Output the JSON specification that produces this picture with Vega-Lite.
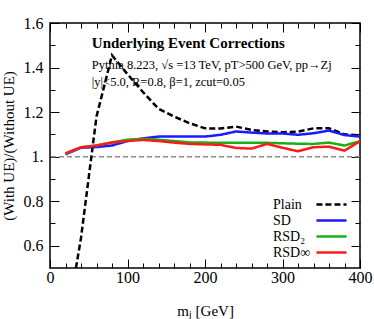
{
  "$schema": "https://vega.github.io/schema/vega-lite/v6.json",
  "width": 310,
  "height": 245,
  "autosize": "none",
  "padding": {"left": 50, "top": 23, "right": 14, "bottom": 51},
  "background": "white",
  "config": {
    "view": {"stroke": "black", "strokeWidth": 1.5},
    "font": "Liberation Serif",
    "axis": {"labelFont": "Liberation Serif", "titleFont": "Liberation Serif", "labelColor": "black", "titleColor": "black", "tickColor": "black", "grid": false, "domain": false, "titleFontWeight": "normal"}
  },
  "datasets": {
    "curves": [
      {"series": "Plain", "m": 20, "v": 0.22}, {"series": "Plain", "m": 40, "v": 0.635}, {"series": "Plain", "m": 60, "v": 1.18}, {"series": "Plain", "m": 80, "v": 1.455}, {"series": "Plain", "m": 100, "v": 1.37}, {"series": "Plain", "m": 120, "v": 1.29}, {"series": "Plain", "m": 140, "v": 1.215}, {"series": "Plain", "m": 160, "v": 1.18}, {"series": "Plain", "m": 180, "v": 1.15}, {"series": "Plain", "m": 200, "v": 1.127}, {"series": "Plain", "m": 220, "v": 1.126}, {"series": "Plain", "m": 240, "v": 1.135}, {"series": "Plain", "m": 260, "v": 1.12}, {"series": "Plain", "m": 280, "v": 1.113}, {"series": "Plain", "m": 300, "v": 1.11}, {"series": "Plain", "m": 320, "v": 1.112}, {"series": "Plain", "m": 340, "v": 1.127}, {"series": "Plain", "m": 360, "v": 1.127}, {"series": "Plain", "m": 380, "v": 1.1}, {"series": "Plain", "m": 400, "v": 1.095},
      {"series": "SD", "m": 20, "v": 1.01}, {"series": "SD", "m": 40, "v": 1.04}, {"series": "SD", "m": 60, "v": 1.043}, {"series": "SD", "m": 80, "v": 1.05}, {"series": "SD", "m": 100, "v": 1.07}, {"series": "SD", "m": 120, "v": 1.082}, {"series": "SD", "m": 140, "v": 1.09}, {"series": "SD", "m": 160, "v": 1.09}, {"series": "SD", "m": 180, "v": 1.09}, {"series": "SD", "m": 200, "v": 1.09}, {"series": "SD", "m": 220, "v": 1.098}, {"series": "SD", "m": 240, "v": 1.113}, {"series": "SD", "m": 260, "v": 1.108}, {"series": "SD", "m": 280, "v": 1.104}, {"series": "SD", "m": 300, "v": 1.104}, {"series": "SD", "m": 320, "v": 1.098}, {"series": "SD", "m": 340, "v": 1.105}, {"series": "SD", "m": 360, "v": 1.117}, {"series": "SD", "m": 380, "v": 1.097}, {"series": "SD", "m": 400, "v": 1.09},
      {"series": "RSD₂", "m": 20, "v": 1.012}, {"series": "RSD₂", "m": 40, "v": 1.042}, {"series": "RSD₂", "m": 60, "v": 1.05}, {"series": "RSD₂", "m": 80, "v": 1.064}, {"series": "RSD₂", "m": 100, "v": 1.076}, {"series": "RSD₂", "m": 120, "v": 1.08}, {"series": "RSD₂", "m": 140, "v": 1.076}, {"series": "RSD₂", "m": 160, "v": 1.07}, {"series": "RSD₂", "m": 180, "v": 1.064}, {"series": "RSD₂", "m": 200, "v": 1.063}, {"series": "RSD₂", "m": 220, "v": 1.062}, {"series": "RSD₂", "m": 240, "v": 1.062}, {"series": "RSD₂", "m": 260, "v": 1.062}, {"series": "RSD₂", "m": 280, "v": 1.062}, {"series": "RSD₂", "m": 300, "v": 1.06}, {"series": "RSD₂", "m": 320, "v": 1.058}, {"series": "RSD₂", "m": 340, "v": 1.057}, {"series": "RSD₂", "m": 360, "v": 1.063}, {"series": "RSD₂", "m": 380, "v": 1.05}, {"series": "RSD₂", "m": 400, "v": 1.069},
      {"series": "RSD∞", "m": 20, "v": 1.015}, {"series": "RSD∞", "m": 40, "v": 1.042}, {"series": "RSD∞", "m": 60, "v": 1.05}, {"series": "RSD∞", "m": 80, "v": 1.063}, {"series": "RSD∞", "m": 100, "v": 1.07}, {"series": "RSD∞", "m": 120, "v": 1.075}, {"series": "RSD∞", "m": 140, "v": 1.07}, {"series": "RSD∞", "m": 160, "v": 1.063}, {"series": "RSD∞", "m": 180, "v": 1.057}, {"series": "RSD∞", "m": 200, "v": 1.055}, {"series": "RSD∞", "m": 220, "v": 1.053}, {"series": "RSD∞", "m": 240, "v": 1.039}, {"series": "RSD∞", "m": 260, "v": 1.036}, {"series": "RSD∞", "m": 280, "v": 1.057}, {"series": "RSD∞", "m": 300, "v": 1.04}, {"series": "RSD∞", "m": 320, "v": 1.024}, {"series": "RSD∞", "m": 340, "v": 1.042}, {"series": "RSD∞", "m": 360, "v": 1.045}, {"series": "RSD∞", "m": 380, "v": 1.027}, {"series": "RSD∞", "m": 400, "v": 1.069}
    ],
    "titles": [
      {"m": 54, "v": 1.509, "label": "Underlying Event Corrections"}
    ],
    "notes": [
      {"m": 54, "v": 1.41, "label": "Pythia 8.223, √s =13 TeV, pT>500 GeV, pp→Zj"},
      {"m": 54, "v": 1.333, "label": "|y|<5.0, R=0.8, β=1, zcut=0.05"}
    ]
  },
  "layer": [
    {
      "data": {"values": [{"ref": 1}]},
      "mark": {"type": "rule", "color": "#8c8c8c", "strokeDash": [5, 3], "strokeWidth": 1.5},
      "encoding": {"y": {"field": "ref", "type": "quantitative", "scale": {"domain": [0.5, 1.6]}, "axis": null}}
    },
    {
      "data": {"name": "curves"},
      "mark": {"type": "line", "clip": true, "strokeWidth": 2.5},
      "encoding": {
        "x": {
          "field": "m", "type": "quantitative",
          "scale": {"domain": [0, 400], "nice": false},
          "axis": {
            "orient": "bottom",
            "values": [0, 20, 40, 60, 80, 100, 120, 140, 160, 180, 200, 220, 240, 260, 280, 300, 320, 340, 360, 380, 400],
            "labelExpr": "datum.value % 100 === 0 ? datum.label : ''",
            "tickSize": {"condition": {"test": "datum.value % 100 === 0", "value": -9}, "value": -5},
            "tickWidth": 1,
            "labelFontSize": 16,
            "labelPadding": 10,
            "labelOverlap": false,
            "labelFlush": false,
            "title": "mⱼ [GeV]",
            "titleFontSize": 15,
            "titleBaseline": "middle",
            "titleY": 42
          }
        },
        "y": {
          "field": "v", "type": "quantitative",
          "scale": {"domain": [0.5, 1.6], "nice": false, "zero": false},
          "axis": {
            "orient": "left",
            "values": [0.6, 0.7, 0.8, 0.9, 1.0, 1.1, 1.2, 1.3, 1.4, 1.5, 1.6],
            "format": "~g",
            "labelExpr": "datum.value === 1 ? '1.' : datum.label",
            "labelOpacity": {"condition": {"test": "round(datum.value * 10) % 2 === 1", "value": 0}, "value": 1},
            "tickSize": {"condition": {"test": "round(datum.value * 10) % 2 === 0", "value": -9}, "value": -5},
            "tickWidth": 1,
            "labelFontSize": 16,
            "labelPadding": 16,
            "labelOverlap": false,
            "labelBound": false,
            "labelFlush": false,
            "title": "(With UE)/(Without UE)",
            "titleFontSize": 15,
            "titlePadding": 3
          }
        },
        "color": {
          "field": "series", "type": "nominal",
          "scale": {"domain": ["Plain", "SD", "RSD₂", "RSD∞"], "range": ["black", "#1a1aff", "#14b014", "#ff1a1a"]},
          "legend": {
            "title": null,
            "orient": "none",
            "legendX": 273,
            "legendY": 173,
            "padding": 0,
            "symbolType": "M-2.15,0H2.15",
            "symbolSize": 196,
            "symbolStrokeWidth": 2.5,
            "labelFont": "Liberation Serif",
            "labelFontSize": 14,
            "labelColor": "black",
            "labelAlign": "left",
            "labelOffset": -67,
            "rowPadding": -11
          }
        },
        "strokeDash": {
          "field": "series", "type": "nominal",
          "scale": {"domain": ["Plain", "SD", "RSD₂", "RSD∞"], "range": [[6, 3], [1, 0], [1, 0], [1, 0]]},
          "legend": null
        }
      }
    },
    {
      "data": {"name": "titles"},
      "mark": {"type": "text", "align": "left", "baseline": "middle", "font": "Liberation Serif", "fontSize": 15, "fontWeight": "bold", "color": "black"},
      "encoding": {
        "x": {"field": "m", "type": "quantitative", "axis": null},
        "y": {"field": "v", "type": "quantitative", "axis": null},
        "text": {"field": "label"}
      }
    },
    {
      "data": {"name": "notes"},
      "mark": {"type": "text", "align": "left", "baseline": "middle", "font": "Liberation Serif", "fontSize": 12.5, "color": "black"},
      "encoding": {
        "x": {"field": "m", "type": "quantitative", "axis": {"orient": "top", "values": [0, 20, 40, 60, 80, 100, 120, 140, 160, 180, 200, 220, 240, 260, 280, 300, 320, 340, 360, 380, 400], "labels": false, "title": null, "tickSize": {"condition": {"test": "datum.value % 100 === 0", "value": -9}, "value": -5}, "tickWidth": 1}},
        "y": {"field": "v", "type": "quantitative", "axis": {"orient": "right", "values": [0.6, 0.7, 0.8, 0.9, 1.0, 1.1, 1.2, 1.3, 1.4, 1.5, 1.6], "labels": false, "title": null, "tickSize": {"condition": {"test": "round(datum.value * 10) % 2 === 0", "value": -9}, "value": -5}, "tickWidth": 1}},
        "text": {"field": "label"}
      }
    }
  ]
}
